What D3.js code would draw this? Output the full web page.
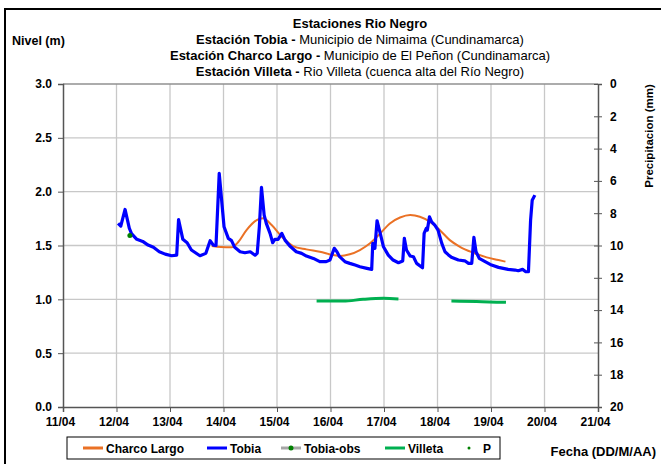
<!DOCTYPE html>
<html>
<head>
<meta charset="utf-8">
<script src="https://cdn.jsdelivr.net/npm/d3@7"></script>
<style>
  body { margin: 0; background: #fff; }
  svg { font-family: "Liberation Sans", Arial, sans-serif; }
  .tick text { font-weight: bold; font-size: 12px; fill: #000; }
</style>
</head>
<body>
<div class="chart"></div>
<script>
// ---- data (day of April, level in m) ----
var tobiaDay = [12.03, 12.08, 12.16, 12.24, 12.28, 12.38, 12.49, 12.59, 12.69, 12.80, 12.91, 13.03, 13.125,
  13.16, 13.24, 13.32, 13.40, 13.56, 13.67, 13.75, 13.81, 13.86, 13.92, 14.01, 14.09, 14.15, 14.21, 14.31,
  14.40, 14.50, 14.59, 14.63, 14.67, 14.71, 14.76, 14.80, 14.87, 14.92, 14.96, 15.02, 15.09, 15.15, 15.24,
  15.36, 15.46, 15.55, 15.68, 15.80, 15.92, 15.99, 16.07, 16.12, 16.17, 16.27, 16.36, 16.46, 16.55, 16.68,
  16.77, 16.79, 16.83, 16.87, 16.93, 16.99, 17.08, 17.17, 17.27, 17.35, 17.38, 17.42, 17.49, 17.55, 17.61,
  17.72, 17.75, 17.79, 17.81, 17.85, 17.89, 17.95, 18.01, 18.08, 18.14, 18.20, 18.26, 18.39, 18.51, 18.58,
  18.64, 18.68, 18.72, 18.78, 18.89, 19.01, 19.14, 19.23, 19.32, 19.45, 19.51, 19.59, 19.65, 19.70, 19.74,
  19.77, 19.82];
var tobiaLevel = [1.705, 1.68, 1.835, 1.66, 1.61, 1.557, 1.538, 1.504, 1.483, 1.442, 1.42, 1.405, 1.41,
  1.74, 1.557, 1.526, 1.458, 1.405, 1.427, 1.545, 1.504, 1.50, 2.17, 1.674, 1.566, 1.545, 1.483, 1.442,
  1.433, 1.442, 1.41, 1.427, 1.674, 2.04, 1.783, 1.705, 1.613, 1.526, 1.557, 1.557, 1.613, 1.55, 1.495,
  1.442, 1.427, 1.402, 1.38, 1.35, 1.35, 1.365, 1.474, 1.442, 1.396, 1.35, 1.334, 1.318, 1.303, 1.288,
  1.278, 1.52, 1.474, 1.73, 1.613, 1.488, 1.411, 1.365, 1.34, 1.356, 1.566, 1.458, 1.402, 1.396, 1.334,
  1.293, 1.613, 1.659, 1.643, 1.767, 1.72, 1.69, 1.643, 1.52, 1.442, 1.415, 1.39, 1.365, 1.358, 1.334,
  1.334, 1.576, 1.442, 1.38, 1.35, 1.318, 1.297, 1.288, 1.278, 1.272, 1.266, 1.278, 1.256, 1.256, 1.736,
  1.92, 1.968];

var charcoDay = [13.78, 13.95, 14.15, 14.28, 14.43, 14.62, 14.74, 14.90, 15.09, 15.30, 15.55, 15.80, 16.05,
  16.18, 16.36, 16.55, 16.74, 16.93, 17.11, 17.30, 17.49, 17.67, 17.86, 18.05, 18.23, 18.42, 18.67, 18.92,
  19.14, 19.27];
var charcoLevel = [1.495, 1.485, 1.483, 1.535, 1.643, 1.736, 1.752, 1.69, 1.581, 1.495, 1.464, 1.442, 1.411,
  1.402, 1.418, 1.458, 1.52, 1.613, 1.705, 1.76, 1.783, 1.767, 1.72, 1.64, 1.55, 1.488, 1.433, 1.39,
  1.365, 1.35];

var villetaDay = [15.74, 16.24, 16.61, 16.99, 17.27, null, 18.26, 18.73, 19.28];
var villetaLevel = [0.984, 0.984, 1.0, 1.009, 1.003, null, 0.984, 0.981, 0.972];

var obsDay = [12.25];
var obsLevel = [1.594];

var dayTicks = [11, 12, 13, 14, 15, 16, 17, 18, 19, 20, 21];
var levelTicks = [0, 0.5, 1, 1.5, 2, 2.5, 3];
var rainTicks = [0, 2, 4, 6, 8, 10, 12, 14, 16, 18, 20];

var titleLines = [
  ["Estaciones Rio Negro", ""],
  ["Estación Tobia - ", "Municipio de Nimaima (Cundinamarca)"],
  ["Estación Charco Largo - ", "Municipio de El Peñon (Cundinamarca)"],
  ["Estación Villeta - ", " Rio Villeta (cuenca alta del Río Negro)"]
];

var legendItems = ["Charco Largo", "Tobia", "Tobia-obs", "Villeta", "P"];

// ---- chart ----
var svgWidth = 661, svgHeight = 464;
var margin = { top: 84, right: 63, bottom: 57, left: 63 };
var width = svgWidth - margin.left - margin.right;
var height = svgHeight - margin.top - margin.bottom;

var svg = d3.select(".chart").append("svg")
  .attr("width", svgWidth).attr("height", svgHeight);

// outer frame
svg.append("rect").attr("x", 5).attr("y", 9).attr("width", 700).attr("height", 500)
  .attr("fill", "none").attr("stroke", "#000").attr("stroke-width", 2);

var chart = svg.append("g").attr("transform", "translate(" + margin.left + "," + margin.top + ")");

var x = d3.scaleLinear().domain([11, 21]).range([0, width]);
var y = d3.scaleLinear().domain([0, 3]).range([height, 0]);
var yRain = d3.scaleLinear().domain([0, 20]).range([0, height]);

// grid
chart.append("g").selectAll("line").data(dayTicks.slice(1, -1)).enter().append("line")
  .attr("x1", function(d) { return x(d); }).attr("x2", function(d) { return x(d); })
  .attr("y1", 0).attr("y2", height).attr("stroke", "#c8c8c8").attr("stroke-width", 1.3);
chart.append("g").selectAll("line").data(levelTicks.slice(1)).enter().append("line")
  .attr("x1", 0).attr("x2", width)
  .attr("y1", function(d) { return y(d); }).attr("y2", function(d) { return y(d); })
  .attr("stroke", function(d) { return d === 3 ? "#909090" : "#c8c8c8"; }).attr("stroke-width", 1.3);

// axes
var fmtDay = function(d) { return d3.format("02d")(d) + "/04"; };
var bottomAxis = d3.axisBottom(x).tickValues(dayTicks).tickFormat(fmtDay).tickSize(5).tickPadding(5);
var leftAxis = d3.axisLeft(y).tickValues(levelTicks).tickFormat(d3.format(".1f")).tickSize(5).tickPadding(6);
var rightAxis = d3.axisRight(yRain).tickValues(rainTicks).tickSize(4).tickPadding(8);

chart.append("g").attr("transform", "translate(0," + height + ")").call(bottomAxis)
  .selectAll(".tick text").attr("dx", "-3px");
chart.append("g").call(leftAxis);
var ra = chart.append("g").attr("transform", "translate(" + width + ",0)").call(rightAxis);
ra.selectAll(".tick line").attr("x1", -4);

chart.selectAll(".domain").attr("stroke", "#555").attr("stroke-width", 1.5);
chart.selectAll(".tick line").attr("stroke", "#555");

// series
var charco = charcoDay.map(function(d, i) { return [d, charcoLevel[i]]; });
var tobia = tobiaDay.map(function(d, i) { return [d, tobiaLevel[i]]; });
var villeta = villetaDay.map(function(d, i) { return [d, villetaLevel[i]]; });

var line = d3.line()
  .defined(function(d) { return d[0] !== null; })
  .x(function(d) { return x(d[0]); })
  .y(function(d) { return y(d[1]); });

chart.append("path").datum(villeta).attr("d", line.curve(d3.curveMonotoneX))
  .attr("fill", "none").attr("stroke", "#00b050").attr("stroke-width", 3);

chart.append("path").datum(charco).attr("d", line.curve(d3.curveMonotoneX))
  .attr("fill", "none").attr("stroke", "#ea7125").attr("stroke-width", 2);

chart.append("path").datum(tobia).attr("d", line.curve(d3.curveLinear))
  .attr("fill", "none").attr("stroke", "#0000ff").attr("stroke-width", 3.2)
  .attr("stroke-linejoin", "round");

chart.selectAll(".obs").data(obsDay).enter().append("circle")
  .attr("cx", function(d) { return x(d); })
  .attr("cy", function(d, i) { return y(obsLevel[i]); })
  .attr("r", 2.5).attr("fill", "#008000");

// titles
titleLines.forEach(function(t, i) {
  var tl = svg.append("text").attr("x", 360).attr("y", 28 + i * 16)
    .attr("text-anchor", "middle").attr("font-size", "13px");
  tl.append("tspan").attr("font-weight", "bold").text(t[0]);
  if (t[1]) tl.append("tspan").text(t[1]);
});

svg.append("text").attr("x", 12).attr("y", 45).attr("font-size", "12.5px")
  .attr("font-weight", "bold").text("Nivel (m)");

svg.append("text").attr("transform", "translate(653,136) rotate(-90)")
  .attr("text-anchor", "middle").attr("font-size", "11.5px").attr("font-weight", "bold")
  .text("Precipitacion (mm)");

svg.append("text").attr("x", 656).attr("y", 456).attr("text-anchor", "end")
  .attr("font-size", "13px").attr("font-weight", "bold").text("Fecha (DD/M/AA)");

// legend
var legend = svg.append("g").attr("transform", "translate(67,437)");
legend.append("rect").attr("width", 433).attr("height", 22)
  .attr("fill", "#fff").attr("stroke", "#000").attr("stroke-width", 1);

var legX = [16, 140, 214, 318, 392];
var legColor = ["#ea7125", "#0000ff", "#a6a6a6", "#00b050", null];
legendItems.forEach(function(name, i) {
  var g = legend.append("g").attr("transform", "translate(" + legX[i] + ",11)");
  if (legColor[i]) {
    g.append("line").attr("x1", 0).attr("x2", 20).attr("stroke", legColor[i]).attr("stroke-width", 3);
  }
  if (name === "Tobia-obs" || name === "P") {
    g.append("circle").attr("cx", 10).attr("r", name === "P" ? 1.5 : 2.5).attr("fill", "#008000");
  }
  g.append("text").attr("x", name === "P" ? 24 : 23).attr("y", 4.5)
    .attr("font-size", "12px").attr("font-weight", "bold").text(name);
});
</script>
</body>
</html>
